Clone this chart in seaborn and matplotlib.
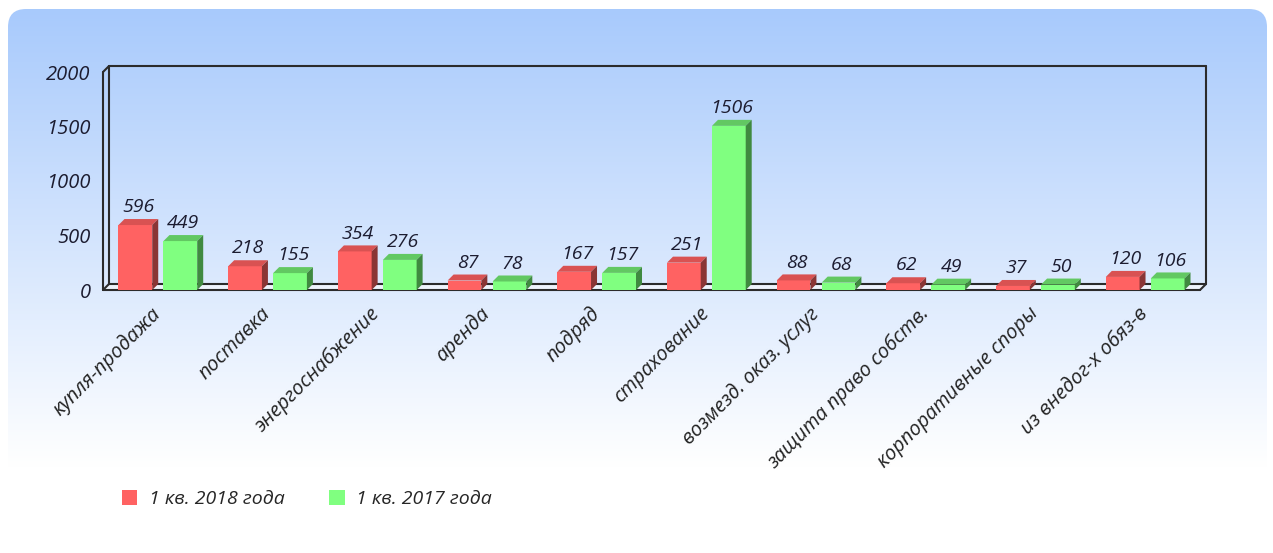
import numpy as np
import pandas as pd
import matplotlib
matplotlib.use('Agg')
import matplotlib.pyplot as plt
import seaborn as sns
from matplotlib.patches import Polygon, FancyBboxPatch, Patch

# Data
categories = ['купля-продажа', 'поставка', 'энергоснабжение', 'аренда', 'подряд',
              'страхование', 'возмезд. оказ. услуг', 'защита право собств.',
              'корпоративные споры', 'из внедог-х обяз-в']
q1_2018 = [596, 218, 354, 87, 167, 251, 88, 62, 37, 120]
q1_2017 = [449, 155, 276, 78, 157, 1506, 68, 49, 50, 106]
series_names = ['1 кв. 2018 года', '1 кв. 2017 года']
y_ticks = [0, 500, 1000, 1500, 2000]

df = pd.DataFrame({
    'category': categories * 2,
    'value': q1_2018 + q1_2017,
    'period': [series_names[0]] * len(categories) + [series_names[1]] * len(categories),
})

sns.set_theme(style='white')
plt.rcParams['font.family'] = ['Open Sans', 'DejaVu Sans']

front = {'red': '#ff6262', 'green': '#80ff80'}
top_c = {'red': '#d95252', 'green': '#62c862'}
side_c = {'red': '#8a3535', 'green': '#408a40'}

W, H = 1273, 553
fig = plt.figure(figsize=(W / 100, H / 100), dpi=100)

# gradient rounded background
bg = fig.add_axes([0, 0, 1, 1], zorder=-10)
bg.set_xlim(0, W)
bg.set_ylim(H, 0)
bg.axis('off')
grad = np.linspace(0, 1, 256).reshape(-1, 1)
top_rgb = np.array([168, 202, 252]) / 255
bot_rgb = np.array([255, 255, 255]) / 255
t = np.clip(grad / 0.85, 0, 1)
img = top_rgb * (1 - t)[..., None] + bot_rgb * t[..., None]
img = img.reshape(256, 1, 3)
box = FancyBboxPatch((8, 9), W - 14, H - 14, boxstyle='round,pad=0,rounding_size=18',
                     transform=bg.transData, facecolor='none', edgecolor='none')
bg.add_patch(box)
im = bg.imshow(img, extent=(8, W - 6, H - 5, 9), aspect='auto', interpolation='bilinear')
im.set_clip_path(box)

# main plot area (front face of the 3d box)
ax = fig.add_axes([103 / W, 1 - 290 / H, 1097 / W, 218 / H])
ax.patch.set_visible(False)
sns.barplot(data=df, x='category', y='value', hue='period',
            palette=[front['red'], front['green']], saturation=1,
            width=0.82, gap=0.25, legend=False, ax=ax, zorder=3)
ax.set_xlim(-0.5, len(categories) - 0.5)
ax.set_ylim(0, 2000)

# depth of the fake 3d in data units (about 6 px)
dx = 6 * 10 / 1097
dy = 6 * 2000 / 218

for p in ax.patches:
    x, w, h = p.get_x(), p.get_width(), p.get_height()
    key = 'red' if p.get_facecolor()[1] < 0.6 else 'green'
    p.set_edgecolor('none')
    ax.add_patch(Polygon([(x, h), (x + w, h), (x + w + dx, h + dy), (x + dx, h + dy)],
                         closed=True, facecolor=top_c[key], edgecolor='none',
                         zorder=3, clip_on=False))
    ax.add_patch(Polygon([(x + w, 0), (x + w + dx, dy), (x + w + dx, h + dy), (x + w, h)],
                         closed=True, facecolor=side_c[key], edgecolor='none',
                         zorder=3, clip_on=False))
    ax.annotate(f'{int(round(h))}', (x + w / 2 + dx / 2, h + dy), xytext=(0, 2),
                textcoords='offset points', ha='center', va='bottom',
                fontsize=14, fontstyle='italic', color='#1c1c30', zorder=5,
                annotation_clip=False)

# frame of the 3d box
x0, x1 = -0.5, len(categories) - 0.5
frame = [
    [(x0, 0), (x0, 2000)],
    [(x0, 2000), (x0 + dx, 2000 + dy)],
    [(x0 + dx, 2000 + dy), (x1 + dx, 2000 + dy)],
    [(x1 + dx, 2000 + dy), (x1 + dx, dy)],
    [(x0 + dx, 2000 + dy), (x0 + dx, dy)],
    [(x0 + dx, dy), (x1 + dx, dy)],
    [(x0, 0), (x1, 0)],
    [(x0, 0), (x0 + dx, dy)],
    [(x1, 0), (x1 + dx, dy)],
]
for seg in frame:
    (a, b), (c, d) = seg
    ax.plot([a, c], [b, d], color='#2b2b2b', lw=1.5, clip_on=False, zorder=2,
            solid_capstyle='round')
ax.fill([x0, x1, x1 + dx, x0 + dx], [0, 0, dy, dy], color='#eef3fc', zorder=1, clip_on=False)

for s in ax.spines.values():
    s.set_visible(False)

ax.set_yticks(y_ticks)
ax.set_yticklabels([str(v) for v in y_ticks], fontsize=14.5, fontstyle='italic', color='#1c1c30')
ax.set_xticks(range(len(categories)))
ax.set_xticklabels(categories, rotation=45, ha='right', va='center',
                   rotation_mode='anchor', fontsize=14.5, fontstyle='italic', color='#222222')
ax.tick_params(axis='y', length=0, pad=9)
ax.tick_params(axis='x', length=0, pad=15)
ax.set_xlabel('')
ax.set_ylabel('')

# legend
handles = [Patch(facecolor=front['red'], edgecolor='none'),
           Patch(facecolor=front['green'], edgecolor='none')]
fig.legend(handles, series_names, loc='center left', bbox_to_anchor=(104 / W, 1 - 499 / H),
           ncol=2, frameon=False, handlelength=0.8, handleheight=0.8,
           handletextpad=0.6, columnspacing=2.3,
           prop={'size': 14, 'style': 'italic'})

fig.savefig('out.png', dpi=100)
